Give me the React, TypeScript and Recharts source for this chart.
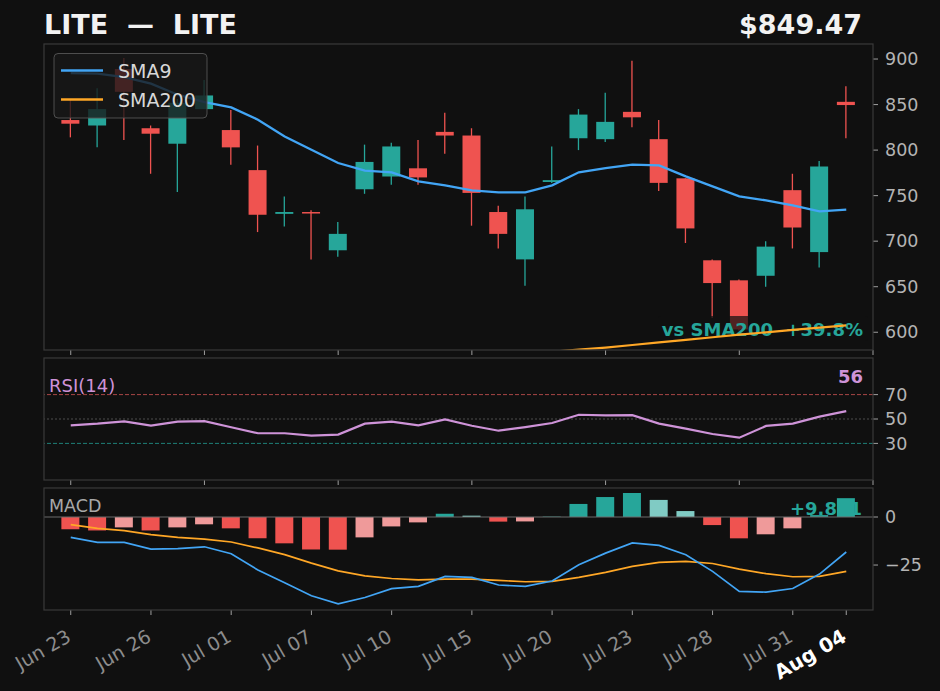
import { Bar, Cell, ComposedChart, Line, ReferenceLine, XAxis, YAxis } from "recharts";

// ---- data ----
const DATES = [
  "Jun 23", "Jun 24", "Jun 25", "Jun 26", "Jun 27", "Jun 30", "Jul 01", "Jul 02", "Jul 03", "Jul 07",
  "Jul 08", "Jul 09", "Jul 10", "Jul 11", "Jul 14", "Jul 15", "Jul 16", "Jul 17", "Jul 20", "Jul 21",
  "Jul 22", "Jul 23", "Jul 24", "Jul 25", "Jul 28", "Jul 29", "Jul 30", "Jul 31", "Aug 01", "Aug 04",
];

const OPEN = [833, 827, 889, 824, 807, 845, 822, 778, 730, 732, 690, 757, 771, 780, 820, 816, 732, 680, 765, 813, 812, 842, 812, 769, 679, 657, 662, 756, 688, 853];
const HIGH = [856, 868, 901, 827, 856, 877, 844, 805, 749, 734, 721, 806, 808, 811, 841, 824, 739, 749, 804, 845, 863, 898, 833, 769, 680, 658, 700, 774, 788, 870];
const LOW = [814, 803, 811, 774, 754, 845, 784, 710, 716, 680, 683, 752, 762, 762, 796, 717, 692, 651, 764, 800, 809, 825, 755, 698, 616, 602, 650, 692, 671, 813];
const CLOSE = [829, 845, 864, 818, 852, 860, 803, 729, 732, 731, 708, 787, 804, 770, 816, 753, 708, 735, 767, 839, 831, 836, 764, 714, 654, 603, 694, 715, 782, 849.47];

const SMA9 = [884.6, 883.9, 880.2, 872.9, 860.8, 852.8, 846.9, 833.4, 815, 800.4, 785.8, 777.4, 775.6, 765.6, 761.3, 755.8, 753.6, 753.6, 761.3, 775.6, 780.3, 784, 783.2, 771.1, 760.2, 749.2, 744.8, 739.3, 732.7, 734.6];
const SMA200 = [
  null, null, null, null, null, null, null, null, null, null, null, null, null, null, null, null, null,
  576.0, 578.6, 581.0, 583.2, 586.0, 588.8, 591.6, 594.5, 597.3, 599.9, 602.5, 605.1, 607.6,
];

const RSI = [44.8, 46.2, 48.1, 44.5, 47.8, 48.3, 43.2, 38.3, 38.3, 36.4, 37.2, 46.2, 47.8, 44.8, 49.7, 44.5, 40.4, 43.4, 46.7, 53.5, 53.0, 53.2, 46.2, 42.1, 37.7, 34.7, 44.3, 46.2, 51.9, 56.4];

const MACD = [-10.6, -13.2, -13.2, -16.7, -16.5, -15.5, -19.1, -27.6, -34.2, -41.0, -45.2, -41.9, -37.3, -36.1, -30.9, -31.4, -35.4, -36.1, -33.3, -24.8, -18.8, -13.5, -14.8, -19.6, -28.3, -38.7, -39.1, -37.2, -29.7, -18.2];
const SIGNAL = [-4.0, -5.9, -7.1, -9.2, -10.6, -11.5, -13.0, -16.1, -19.6, -24.0, -28.0, -30.6, -32.0, -32.7, -32.3, -32.3, -33.0, -33.7, -33.5, -31.4, -28.8, -25.7, -23.6, -23.1, -24.2, -27.1, -29.5, -31.1, -30.9, -28.3];
const HIST = [-6.4, -7.0, -5.4, -7.0, -5.4, -3.8, -5.9, -11.1, -13.7, -16.9, -17.0, -10.6, -4.9, -2.8, 1.7, 0.7, -2.4, -2.3, 0.2, 6.8, 10.4, 12.5, 8.9, 3.1, -4.2, -11.1, -9.0, -5.9, 1.0, 9.811];

const PRICE_TICKS = [600, 650, 700, 750, 800, 850, 900];
const RSI_TICKS = [30, 50, 70];
const MACD_TICKS = [-25, 0];
const FRAME_TICKS = [0, 5, 10, 15, 20, 25, 30];
const DATE_TICKS = [0, 3, 6, 9, 12, 15, 18, 21, 24, 27, 29];

const TICKER = "LITE";
const LAST_PRICE = "$849.47";
const SMA200_NOTE = "vs SMA200  +39.8%";
const RSI_NOTE = "56";
const HIST_NOTE = "+9.811";

const rows = DATES.map((date, i) => ({
  i,
  date,
  open: OPEN[i],
  high: HIGH[i],
  low: LOW[i],
  close: CLOSE[i],
  sma9: SMA9[i],
  sma200: SMA200[i],
  rsi: RSI[i],
  macd: MACD[i],
  signal: SIGNAL[i],
  hist: HIST[i],
}));

// ---- look ----
const FONT = '"DejaVu Sans", sans-serif';
const BG = "#101010";
const FRAME = "#3a3a3a";
const TICK_LINE = "#9e9e9e";
const TICK_TEXT = "#b4b4b4";
const UP = "#26a69a";
const UP_SOFT = "#80cbc4";
const DOWN = "#ef5350";
const DOWN_SOFT = "#ef9a9a";
const BLUE = "#42a5f5";
const ORANGE = "#ffa726";
const PURPLE = "#ce93d8";

const WIDTH = 940;
const LEFT = 44;
const AXIS_W = 67;
const PAD = 10;
const PRICE_P = { top: 44, height: 306 };
const RSI_P = { top: 358, height: 122 };
const MACD_P = { top: 488, height: 122 };
const X_DOMAIN = [-1, 30];
const PRICE_DOMAIN = [580.5, 916.5];
const MACD_DOMAIN = [-48.4, 15.1];

const minus = (v: number) => (v < 0 ? `\u2212${Math.abs(v)}` : `${v}`);

function histColor(i: number) {
  const v = HIST[i];
  const prev = i > 0 ? HIST[i - 1] : 0;
  if (v >= 0) return v >= prev ? UP : UP_SOFT;
  return v <= prev ? DOWN : DOWN_SOFT;
}

function Candle(props: any) {
  const { x, y, width, height, payload } = props;
  const top = Math.min(y, y + height);
  const span = Math.abs(height);
  const { open, high, low, close } = payload;
  const k = span / (high - low);
  const bodyTop = top + (high - Math.max(open, close)) * k;
  const bodyH = Math.max(Math.abs(open - close) * k, 1.5);
  const color = close >= open ? UP : DOWN;
  const cx = x + width / 2;
  return (
    <g>
      <line x1={cx} x2={cx} y1={top} y2={top + span} stroke={color} strokeWidth={1.3} />
      <rect x={x} y={bodyTop} width={width} height={bodyH} fill={color} />
    </g>
  );
}

function DateTick(props: any) {
  const { x, y, payload } = props;
  const idx = payload.value as number;
  const last = idx === DATES.length - 1;
  const ax = x + 1.5;
  const ay = y + 23.5;
  return (
    <text
      x={ax}
      y={ay}
      transform={`rotate(-30 ${ax} ${ay})`}
      textAnchor="end"
      fill={last ? "#ffffff" : "#8c8c8c"}
      fontSize={last ? 20 : 19}
      fontWeight={last ? "bold" : "normal"}
      fontFamily={FONT}
    >
      {DATES[idx]}
    </text>
  );
}

const frameXAxis = (
  <XAxis
    type="number"
    dataKey="i"
    domain={X_DOMAIN}
    allowDataOverflow
    ticks={FRAME_TICKS}
    interval={0}
    height={20}
    axisLine={false}
    tickLine={{ stroke: TICK_LINE }}
    tickSize={5}
    tickFormatter={() => ""}
  />
);

function Layer({ top, children }: { top: number; children: any }) {
  return <div style={{ position: "absolute", left: 0, top }}>{children}</div>;
}

export default function App() {
  const priceH = PAD + PRICE_P.height + 20;
  const rsiH = PAD + RSI_P.height + 20;
  const macdH = PAD + MACD_P.height + 81;

  return (
    <div
      style={{
        position: "absolute",
        left: 0,
        top: 0,
        width: 940,
        height: 691,
        background: BG,
        fontFamily: FONT,
        overflow: "hidden",
      }}
    >
      {/* candles */}
      <Layer top={PRICE_P.top - PAD}>
        <ComposedChart width={WIDTH} height={priceH} data={rows} margin={{ top: PAD, right: 0, bottom: 0, left: LEFT }}>
          {frameXAxis}
          <YAxis
            orientation="right"
            width={AXIS_W}
            domain={PRICE_DOMAIN}
            allowDataOverflow
            ticks={PRICE_TICKS}
            interval={0}
            axisLine={false}
            tickLine={{ stroke: TICK_LINE }}
            tickSize={5}
            tickMargin={7}
            tick={{ fill: TICK_TEXT, fontSize: 17.5, fontFamily: FONT }}
          />
          <Bar
            dataKey={(d: any) => [d.low, d.high]}
            barSize={18}
            shape={(p: any) => <Candle {...p} />}
            isAnimationActive={false}
          />
        </ComposedChart>
      </Layer>

      {/* note sits between candles and the SMA lines */}
      <svg width={940} height={691} style={{ position: "absolute", left: 0, top: 0, pointerEvents: "none" }}>
        <rect x={658} y={316} width={210} height={25} rx={3} fill="rgba(16,16,16,0.72)" />
        <text x={863} y={335.7} textAnchor="end" fill={UP} fontSize={18} fontWeight="bold" style={{ whiteSpace: "pre" }}>
          {SMA200_NOTE}
        </text>
      </svg>

      {/* moving averages */}
      <Layer top={PRICE_P.top - PAD}>
        <ComposedChart width={WIDTH} height={priceH} data={rows} margin={{ top: PAD, right: AXIS_W, bottom: 20, left: LEFT }}>
          <XAxis type="number" dataKey="i" domain={X_DOMAIN} allowDataOverflow hide />
          <YAxis domain={PRICE_DOMAIN} allowDataOverflow hide />
          <Line type="linear" dataKey="sma200" stroke={ORANGE} strokeWidth={2.2} dot={false} isAnimationActive={false} />
          <Line type="linear" dataKey="sma9" stroke={BLUE} strokeWidth={2.3} dot={false} isAnimationActive={false} />
        </ComposedChart>
      </Layer>

      {/* RSI */}
      <Layer top={RSI_P.top - PAD}>
        <ComposedChart width={WIDTH} height={rsiH} data={rows} margin={{ top: PAD, right: 0, bottom: 0, left: LEFT }}>
          {frameXAxis}
          <YAxis
            orientation="right"
            width={AXIS_W}
            domain={[0, 100]}
            allowDataOverflow
            ticks={RSI_TICKS}
            interval={0}
            axisLine={false}
            tickLine={{ stroke: TICK_LINE }}
            tickSize={5}
            tickMargin={7}
            tick={{ fill: TICK_TEXT, fontSize: 17.5, fontFamily: FONT }}
          />
          <ReferenceLine y={70} stroke="#a84646" strokeDasharray="4 2" />
          <ReferenceLine y={50} stroke="#4c4c4c" strokeDasharray="2 2" />
          <ReferenceLine y={30} stroke="#1f8078" strokeDasharray="4 2" />
          <Line type="linear" dataKey="rsi" stroke={PURPLE} strokeWidth={2.2} dot={false} isAnimationActive={false} />
        </ComposedChart>
      </Layer>

      {/* MACD value label, drawn under the histogram */}
      <svg width={940} height={691} style={{ position: "absolute", left: 0, top: 0, pointerEvents: "none" }}>
        <text x={862} y={514.7} textAnchor="end" fill={UP} fontSize={18} fontWeight="bold">
          {HIST_NOTE}
        </text>
      </svg>

      {/* MACD */}
      <Layer top={MACD_P.top - PAD}>
        <ComposedChart width={WIDTH} height={macdH} data={rows} margin={{ top: PAD, right: 0, bottom: 0, left: LEFT }}>
          <XAxis
            type="number"
            dataKey="i"
            domain={X_DOMAIN}
            allowDataOverflow
            ticks={DATE_TICKS}
            interval={0}
            height={81}
            axisLine={false}
            tickLine={{ stroke: TICK_LINE }}
            tickSize={5}
            tick={(p: any) => <DateTick {...p} />}
          />
          <YAxis
            orientation="right"
            width={AXIS_W}
            domain={MACD_DOMAIN}
            allowDataOverflow
            ticks={MACD_TICKS}
            interval={0}
            axisLine={false}
            tickLine={{ stroke: TICK_LINE }}
            tickSize={5}
            tickMargin={7}
            tickFormatter={minus}
            tick={{ fill: TICK_TEXT, fontSize: 17.5, fontFamily: FONT }}
          />
          <ReferenceLine y={0} stroke="#6a6a6a" />
          <Bar dataKey="hist" barSize={18} isAnimationActive={false}>
            {rows.map((r) => (
              <Cell key={r.i} fill={histColor(r.i)} />
            ))}
          </Bar>
          <Line type="linear" dataKey="signal" stroke={ORANGE} strokeWidth={1.7} dot={false} isAnimationActive={false} />
          <Line type="linear" dataKey="macd" stroke={BLUE} strokeWidth={1.7} dot={false} isAnimationActive={false} />
        </ComposedChart>
      </Layer>

      {/* frames, titles, legend */}
      <svg width={940} height={691} style={{ position: "absolute", left: 0, top: 0, pointerEvents: "none" }}>
        {[PRICE_P, RSI_P, MACD_P].map((p) => (
          <rect key={p.top} x={LEFT} y={p.top} width={WIDTH - AXIS_W - LEFT} height={p.height} fill="none" stroke={FRAME} strokeWidth={1.2} />
        ))}

        <text x={44} y={34} fill="#f2f2f2" fontSize={27} fontWeight="bold" style={{ whiteSpace: "pre" }}>
          {`${TICKER}  \u2014  ${TICKER}`}
        </text>
        <text x={862} y={34} textAnchor="end" fill="#f2f2f2" fontSize={27} fontWeight="bold">
          {LAST_PRICE}
        </text>

        <rect x={54} y={53.5} width={153} height={64.5} rx={4} fill="rgba(24,24,24,0.8)" stroke="rgba(85,85,85,0.9)" />
        <line x1={61} x2={103} y1={70.5} y2={70.5} stroke={BLUE} strokeWidth={2.5} />
        <text x={118} y={78} fill="#d8d8d8" fontSize={19}>SMA9</text>
        <line x1={61} x2={103} y1={99.5} y2={99.5} stroke={ORANGE} strokeWidth={2.5} />
        <text x={118} y={107} fill="#d8d8d8" fontSize={19}>SMA200</text>

        <text x={49} y={391.7} fill={PURPLE} fontSize={18}>RSI(14)</text>
        <text x={863} y={383} textAnchor="end" fill={PURPLE} fontSize={18} fontWeight="bold">{RSI_NOTE}</text>
        <text x={49} y={511.7} fill="#a8a8a8" fontSize={17.5}>MACD</text>
      </svg>
    </div>
  );
}
